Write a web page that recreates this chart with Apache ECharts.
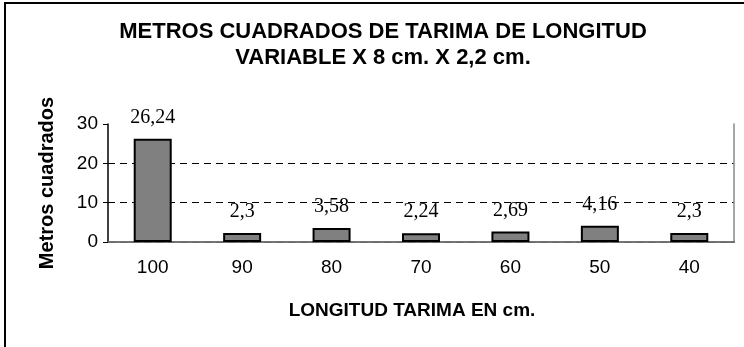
<!DOCTYPE html>
<html>
<head>
<meta charset="utf-8">
<script src="https://cdn.jsdelivr.net/npm/echarts@6/dist/echarts.min.js"></script>
<style>
  html, body { margin: 0; padding: 0; background: #fff; }
  #chart { width: 744px; height: 347px; }
</style>
</head>
<body>
<div id="chart"></div>
<script>
const longitudes = ['100', '90', '80', '70', '60', '50', '40'];
const metrosCuadrados = [26.24, 2.3, 3.58, 2.24, 2.69, 4.16, 2.3];
const titleLines = ['METROS CUADRADOS DE TARIMA DE LONGITUD', 'VARIABLE X 8 cm. X 2,2 cm.'];

const myChart = echarts.init(document.getElementById('chart'));

const option = {
  animation: false,
  backgroundColor: '#fff',
  title: {
    text: titleLines.join('\n'),
    left: 378,
    textAlign: 'center',
    top: 14,
    textStyle: {
      fontFamily: 'Liberation Sans, Arial',
      fontWeight: 'bold',
      fontSize: 22,
      lineHeight: 26,
      color: '#000',
    },
  },
  // outer chart frame (only top and left edges fall inside the picture)
  graphic: [{
    type: 'rect',
    shape: { x: 5, y: 3, width: 800, height: 400 },
    style: { fill: 'none', stroke: '#000', lineWidth: 2 },
    silent: true,
  }],
  grid: {
    left: 108,
    right: 10,
    top: 124,
    bottom: 105,
  },
  xAxis: [{
    type: 'category',
    data: longitudes,
    axisLine: { lineStyle: { color: '#000', width: 1.5 } },
    axisTick: { length: 6, lineStyle: { color: '#000' } },
    axisLabel: {
      color: '#000',
      fontFamily: 'Liberation Sans, Arial',
      fontSize: 19,
      margin: 16,
    },
    name: 'LONGITUD TARIMA EN cm.',
    nameLocation: 'middle',
    nameGap: 59,
    nameTextStyle: {
      color: '#000',
      fontFamily: 'Liberation Sans, Arial',
      fontWeight: 'bold',
      fontSize: 19,
      padding: [0, 18, 0, 0],
    },
  }, {
    // gray top border of the plot area
    type: 'category',
    position: 'top',
    data: longitudes,
    axisLine: { lineStyle: { color: '#888', width: 1.5 } },
    axisTick: { show: false },
    axisLabel: { show: false },
  }],
  yAxis: [{
    type: 'value',
    min: 0,
    max: 30,
    interval: 10,
    axisLine: { show: true, lineStyle: { color: '#000', width: 1.5 } },
    axisTick: { show: true, length: 5, lineStyle: { color: '#000' } },
    axisLabel: {
      color: '#000',
      fontFamily: 'Liberation Sans, Arial',
      fontSize: 19,
      margin: 10,
    },
    splitLine: {
      show: true,
      lineStyle: {
        color: ['#000', '#000', '#000', 'rgba(0,0,0,0)'],
        type: [7, 5],
        width: 1,
      },
    },
    name: 'Metros cuadrados',
    nameLocation: 'middle',
    nameRotate: 90,
    nameGap: 51,
    nameTextStyle: {
      color: '#000',
      fontFamily: 'Liberation Sans, Arial',
      fontWeight: 'bold',
      fontSize: 20,
    },
  }, {
    // gray right border of the plot area
    type: 'value',
    position: 'right',
    min: 0,
    max: 30,
    interval: 10,
    axisLine: { show: true, lineStyle: { color: '#888', width: 1.5 } },
    axisTick: { show: false },
    axisLabel: { show: false },
    splitLine: { show: false },
  }],
  series: [{
    name: 'Metros cuadrados',
    type: 'bar',
    data: metrosCuadrados,
    barWidth: 38,
    itemStyle: {
      color: '#808080',
      borderColor: '#000',
      borderWidth: 2,
    },
    label: {
      show: true,
      position: 'top',
      distance: 11,
      color: '#000',
      fontFamily: 'Liberation Serif, Times New Roman',
      fontSize: 20,
      formatter: p => String(p.value).replace('.', ','),
    },
  }],
};

myChart.setOption(option);
</script>
</body>
</html>
